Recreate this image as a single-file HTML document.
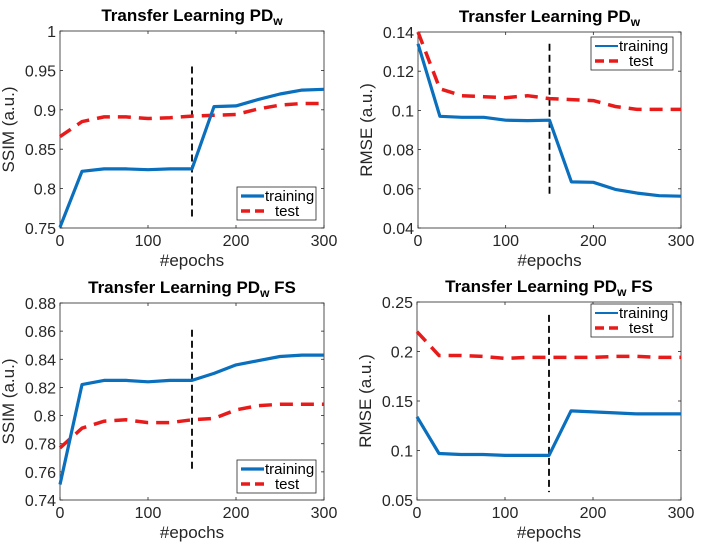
<!DOCTYPE html>
<html><head><meta charset="utf-8"><style>
body{margin:0;background:#fff;}
svg{display:block;font-family:"Liberation Sans","DejaVu Sans",sans-serif;}
</style></head><body>
<svg id="fig" width="704" height="549" xmlns="http://www.w3.org/2000/svg"></svg>
<script>
const epochs=[0,25,50,75,100,125,150,175,200,225,250,275,300];
const xTicks=[0,100,200,300];
const tlTrain=[.751,.822,.825,.825,.824,.825,.825,.904,.905,.913,.920,.925,.926];
const tlTest=[.866,.885,.891,.891,.889,.890,.892,.893,.894,.901,.906,.908,.908];
const tlTicks=[0.75,0.8,0.85,0.9,0.95,1];
const trTrain=[.134,.097,.0965,.0965,.095,.0948,.095,.0635,.0633,.0597,.0578,.0565,.0562];
const trTest=[.140,.111,.1075,.107,.1065,.1075,.106,.1055,.105,.102,.1005,.1005,.1005];
const trTicks=[0.04,0.06,0.08,0.1,0.12,0.14];
const blTrain=[.751,.822,.825,.825,.824,.825,.825,.830,.836,.839,.842,.843,.843];
const blTest=[.777,.791,.796,.797,.795,.795,.797,.798,.804,.807,.808,.808,.808];
const blTicks=[0.74,0.76,0.78,0.8,0.82,0.84,0.86,0.88];
const brTrain=[.134,.097,.096,.096,.095,.095,.095,.140,.139,.138,.137,.137,.137];
const brTest=[.22,.196,.196,.195,.193,.194,.194,.194,.194,.195,.195,.194,.194];
const brTicks=[0.05,0.1,0.15,0.2,0.25];

const NS="http://www.w3.org/2000/svg";
const svg=document.getElementById('fig');
function el(tag,attrs,parent,txt){const e=document.createElementNS(NS,tag);for(const k in attrs)e.setAttribute(k,attrs[k]);if(txt!==undefined)e.textContent=txt;(parent||svg).appendChild(e);return e;}
function fmt(v){return String(+v.toFixed(3));}

function panel(o){
  const g=el('g',{});
  
  
  const X=v=>o.l+(v-0)/(300-0)*(o.r-o.l);
  const Y=v=>o.b-(v-o.ymin)/(o.ymax-o.ymin)*(o.b-o.t);
  const ax=el('rect',{x:o.l,y:o.t,width:o.r-o.l,height:o.b-o.t,fill:'#fff',stroke:'#262626','stroke-width':0.8},g);
  
  xTicks.forEach(v=>{
    el('line',{x1:X(v),x2:X(v),y1:o.b,y2:o.b-3,stroke:'#262626','stroke-width':0.8},g);
    el('line',{x1:X(v),x2:X(v),y1:o.t,y2:o.t+3,stroke:'#262626','stroke-width':0.8},g);
    const t=el('text',{x:X(v),y:o.b+18,'text-anchor':'middle','font-size':16,fill:'#262626'},g,String(v));
    
  });
  o.ticks.forEach(v=>{
    el('line',{x1:o.l,x2:o.l+3,y1:Y(v),y2:Y(v),stroke:'#262626','stroke-width':0.8},g);
    el('line',{x1:o.r,x2:o.r-3,y1:Y(v),y2:Y(v),stroke:'#262626','stroke-width':0.8},g);
    const t=el('text',{x:o.l-4,y:Y(v)+6,'text-anchor':'end','font-size':16,fill:'#262626'},g,fmt(v));
    
  });
  const xt=el('text',{x:(o.l+o.r)/2,y:o.b+38,'text-anchor':'middle','font-size':17,fill:'#262626'},g,'#epochs');
  
  const yc=(o.t+o.b)/2, yx=o.l-46;
  const yt=el('text',{x:yx,y:yc,'text-anchor':'middle','font-size':17,fill:'#262626',transform:`rotate(-90 ${yx} ${yc})`},g,o.ylabel);
  
  const ti=el('text',{x:(o.l+o.r)/2,y:o.t-10,'text-anchor':'middle','font-size':17,'font-weight':'bold',fill:'#000'},g);
  
  el('tspan',{},ti,'Transfer Learning PD');
  el('tspan',{'font-size':12,dy:4},ti,'w');
  if(o.fs) el('tspan',{dy:-4},ti,' FS');
  const vl=el('line',{x1:X(150),x2:X(150),y1:Y(o.vTop),y2:Y(o.vBot),stroke:'#000','stroke-width':1.8,'stroke-dasharray':'7,4'},g);
  
  const pts=a=>a.map((v,i)=>X(epochs[i]).toFixed(1)+','+Y(v).toFixed(1)).join(' ');
  const te=el('polyline',{points:pts(o.test),fill:'none',stroke:'#e81b1b','stroke-width':3.5,'stroke-dasharray':'13,8'},g);
  
  const tr=el('polyline',{points:pts(o.train),fill:'none',stroke:'#0a6fbd','stroke-width':3.2,'stroke-linejoin':'round'},g);
  
  const L=o.leg;
  const lg=el('g',{},g);
  
  el('rect',{x:L.x,y:L.y,width:L.w,height:33,fill:'#fff',stroke:'#262626','stroke-width':0.8},lg);
  el('line',{x1:L.x+4,x2:L.x+27,y1:L.y+9,y2:L.y+9,stroke:'#0a6fbd','stroke-width':L.lw},lg);
  el('line',{x1:L.x+4,x2:L.x+27,y1:L.y+24,y2:L.y+24,stroke:'#e81b1b','stroke-width':3.5,'stroke-dasharray':'9,5'},lg);
  const e1=el('text',{x:L.x+28,y:L.y+14,'font-size':15,fill:'#000'},lg,'training');
  
  const e2=el('text',{x:L.x+38,y:L.y+29,'font-size':15,fill:'#000'},lg,'test');
  
}
panel({name:'ssim-pdw-panel',l:60,r:324,t:31,b:228,ymin:.75,ymax:1,ticks:tlTicks,ylabel:'SSIM (a.u.)',train:tlTrain,test:tlTest,vTop:.955,vBot:.76,leg:{x:237,y:187,w:79,lw:3.2}});
panel({name:'rmse-pdw-panel',l:418,r:681,t:32,b:228,ymin:.04,ymax:.14,ticks:trTicks,ylabel:'RMSE (a.u.)',train:trTrain,test:trTest,vTop:.134,vBot:.056,leg:{x:591,y:37,w:82,lw:2}});
panel({name:'ssim-pdw-fs-panel',l:60,r:324,t:303,b:500,ymin:.74,ymax:.88,ticks:blTicks,ylabel:'SSIM (a.u.)',train:blTrain,test:blTest,vTop:.861,vBot:.761,leg:{x:237,y:460,w:79,lw:3.2},fs:true});
panel({name:'rmse-pdw-fs-panel',l:417,r:681,t:302,b:500,ymin:.05,ymax:.25,ticks:brTicks,ylabel:'RMSE (a.u.)',train:brTrain,test:brTest,vTop:.237,vBot:.058,leg:{x:591,y:304,w:82,lw:2},fs:true});
</script>
</body></html>
